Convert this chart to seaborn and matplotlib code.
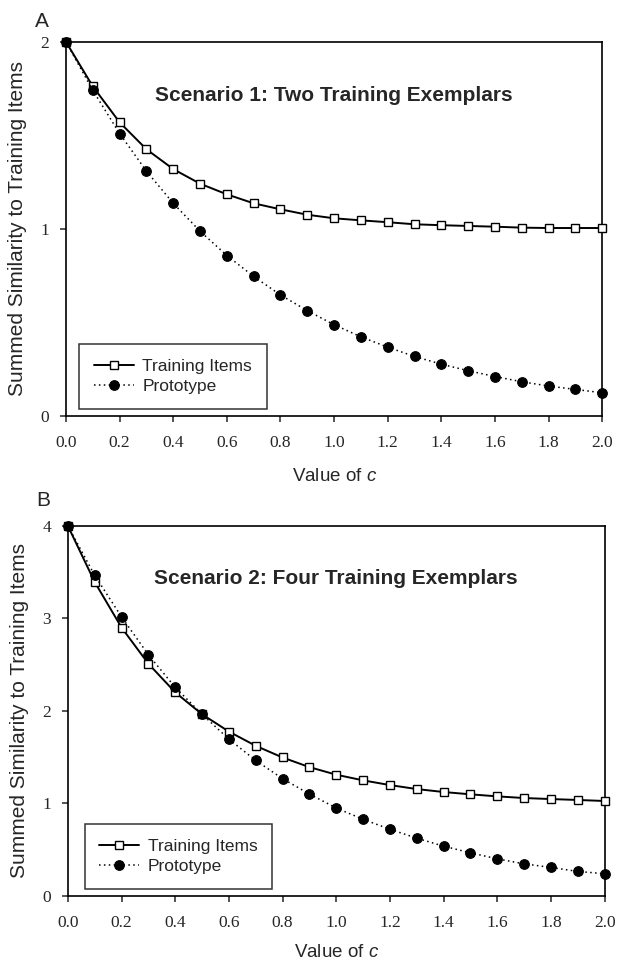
import numpy as np
import pandas as pd
import matplotlib
matplotlib.use("Agg")
import matplotlib.pyplot as plt
import seaborn as sns

c_values = [0.0, 0.1, 0.2, 0.3, 0.4, 0.5, 0.6, 0.7, 0.8, 0.9, 1.0,
            1.1, 1.2, 1.3, 1.4, 1.5, 1.6, 1.7, 1.8, 1.9, 2.0]

a_training = [2.0, 1.762, 1.570, 1.426, 1.320, 1.242, 1.185, 1.137, 1.105, 1.076, 1.057,
              1.046, 1.036, 1.025, 1.020, 1.016, 1.012, 1.007, 1.005, 1.005, 1.005]
a_prototype = [2.0, 1.741, 1.510, 1.309, 1.137, 0.988, 0.858, 0.746, 0.647, 0.563, 0.488,
               0.423, 0.368, 0.318, 0.277, 0.242, 0.211, 0.183, 0.160, 0.142, 0.124]

b_training = [4.0, 3.393, 2.901, 2.510, 2.201, 1.964, 1.777, 1.623, 1.497, 1.393, 1.311,
              1.250, 1.199, 1.156, 1.124, 1.099, 1.077, 1.059, 1.048, 1.038, 1.027]
b_prototype = [4.0, 3.465, 3.016, 2.607, 2.255, 1.964, 1.695, 1.465, 1.268, 1.102, 0.951,
               0.829, 0.722, 0.625, 0.539, 0.467, 0.402, 0.348, 0.309, 0.266, 0.241]

x_ticks = [0.0, 0.2, 0.4, 0.6, 0.8, 1.0, 1.2, 1.4, 1.6, 1.8, 2.0]
a_yticks = [0, 1, 2]
b_yticks = [0, 1, 2, 3, 4]

titles = ["Scenario 1: Two Training Exemplars", "Scenario 2: Four Training Exemplars"]
panel_letters = ["A", "B"]
series_names = ["Training Items", "Prototype"]

sns.set_style("ticks")
plt.rcParams["font.family"] = ["Liberation Sans", "DejaVu Sans"]
plt.rcParams["mathtext.fontset"] = "custom"
plt.rcParams["mathtext.it"] = "Liberation Sans:italic"
plt.rcParams["mathtext.rm"] = "Liberation Sans"

fig = plt.figure(figsize=(6.17, 9.64), dpi=100)
axA = fig.add_axes([0.107, 0.5685, 0.869, 0.388])
axB = fig.add_axes([0.110, 0.0705, 0.870, 0.384])

panels = [
    (axA, a_training, a_prototype, a_yticks, 2.0, 12, (0.068, 0.978)),
    (axB, b_training, b_prototype, b_yticks, 4.0, 9, (0.070, 0.481)),
]

for i, (ax, tr, pr, yt, ymax, xpad, letter_xy) in enumerate(panels):
    df = pd.DataFrame({"c": c_values, "Training Items": tr, "Prototype": pr})
    sns.lineplot(data=df, x="c", y="Training Items", ax=ax, color="black",
                 linestyle="-", linewidth=1.4, marker="s", markersize=5.5,
                 markerfacecolor="white", markeredgecolor="black",
                 markeredgewidth=1.0, label=series_names[0], clip_on=False, zorder=3)
    sns.lineplot(data=df, x="c", y="Prototype", ax=ax, color="black",
                 linestyle=(0, (1, 2.2)), linewidth=1.1, marker="o", markersize=7,
                 markerfacecolor="black", markeredgecolor="black",
                 label=series_names[1], clip_on=False, zorder=4)
    ax.set_xlim(0, 2.0)
    ax.set_ylim(0, ymax)
    ax.set_xticks(x_ticks)
    ax.set_xticklabels([f"{v:.1f}" for v in x_ticks], family="Liberation Serif", fontsize=12.5)
    ax.set_yticks(yt)
    ax.set_yticklabels([str(v) for v in yt], family="Liberation Serif", fontsize=12.5)
    ax.tick_params(axis="x", direction="out", length=4, width=1.1, pad=10)
    ax.tick_params(axis="y", direction="out", length=4, width=1.1, pad=8)
    for s in ax.spines.values():
        s.set_visible(True)
        s.set_linewidth(1.2)
        s.set_color("black")
    ax.set_xlabel("Value of $c$", fontsize=13.5, labelpad=xpad)
    ax.set_ylabel("Summed Similarity to Training Items", fontsize=15, labelpad=10)
    ax.text(0.5, 0.858, titles[i], transform=ax.transAxes, ha="center", va="center",
            fontsize=15, fontweight="bold")
    leg = ax.legend(loc="lower left", bbox_to_anchor=(0.024 if i == 0 else 0.031, 0.019),
                    borderaxespad=0, frameon=True,
                    fancybox=False, edgecolor="black", fontsize=12.5,
                    handlelength=2.3, handletextpad=0.5, borderpad=0.85,
                    labelspacing=0.3)
    leg.get_frame().set_linewidth(1.1)
    fig.text(letter_xy[0], letter_xy[1], panel_letters[i], fontsize=15,
             ha="center", va="center")

fig.savefig("out.png", dpi=100)
